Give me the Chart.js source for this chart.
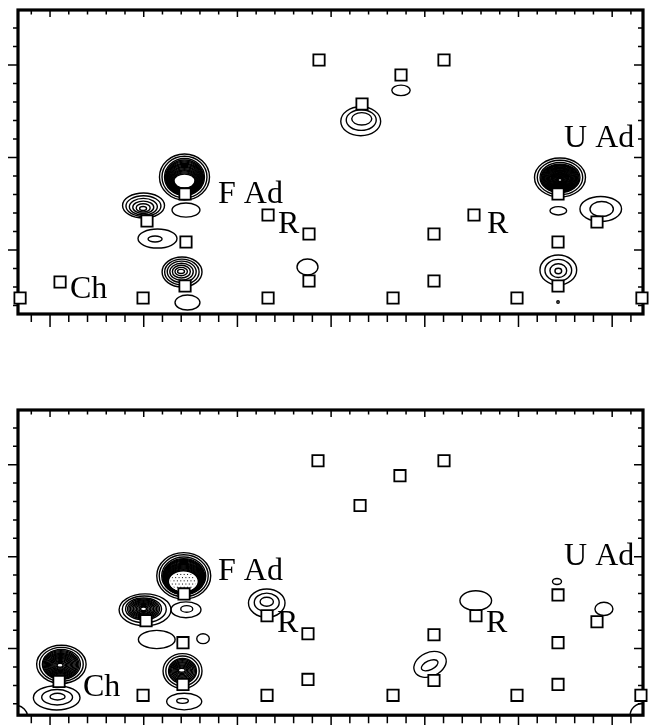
<!DOCTYPE html>
<html>
<head>
<meta charset="utf-8">
<script src="https://cdn.jsdelivr.net/npm/chart.js@4/dist/chart.umd.min.js"></script>
<style>
  html, body { margin: 0; padding: 0; background: #fff; }
  #wrap { position: relative; width: 653px; height: 725px; overflow: hidden; }
  canvas { position: absolute; left: 0; }
  #spec1 { top: 0; }
  #spec2 { top: 380px; }
</style>
</head>
<body>
<div id="wrap">
  <canvas id="spec1" width="653" height="345"></canvas>
  <canvas id="spec2" width="653" height="345"></canvas>
</div>
<script>
// ---- axes (no tick labels; minor ticks every 0.2, major every 1) ----
const xRange = [-0.342, 6.329];
const topYRange = [0.405, 3.692];
const bottomYRange = [0.405, 3.724];
const minorStep = 0.2;

// ---- expected cross-peak positions (open squares) ----
const topMarkers = [
  [2.871, 0.946], [4.205, 0.946], [3.746, 1.108], [3.330, 1.422],
  [1.441, 2.395], [5.422, 2.395], [1.035, 2.686], [2.327, 2.622],
  [2.764, 2.827], [4.525, 2.622], [4.098, 2.827], [5.838, 2.697],
  [1.451, 2.914], [5.422, 2.914], [0.107, 3.346], [2.764, 3.335],
  [4.098, 3.335], [1.441, 3.389], [5.422, 3.389],
  [-0.320, 3.519], [0.993, 3.519], [2.327, 3.519], [3.661, 3.519],
  [4.984, 3.519], [6.318, 3.519]
];
const bottomMarkers = [
  [2.860, 0.957], [4.205, 0.957], [3.735, 1.119], [3.309, 1.443],
  [1.430, 2.405], [5.422, 2.416], [1.025, 2.697], [2.316, 2.643],
  [2.753, 2.838], [4.546, 2.643], [4.098, 2.849], [5.838, 2.708],
  [1.419, 2.935], [5.422, 2.935], [0.096, 3.357], [2.753, 3.335],
  [4.098, 3.346], [1.419, 3.389], [5.422, 3.389],
  [0.993, 3.508], [2.316, 3.508], [3.661, 3.508], [4.984, 3.508],
  [6.307, 3.508]
];

// ---- measured peaks: n contour levels running from the outer
//      ellipse (x, y, rx, ry) to the innermost one (ix, iy, irx, iry) ----
const topPeaks = [
  { x: 1.435, y: 2.211, rx: 0.267, ry: 0.249, n: 3, irx: 0.213, iry: 0.200 },
  { x: 1.435, y: 2.216, rx: 0.203, ry: 0.189, n: 14, iy: 2.254, irx: 0.112, iry: 0.076 },
  { x: 0.998, y: 2.519, rx: 0.224, ry: 0.135, n: 6, ix: 0.993, iy: 2.551, irx: 0.037, iry: 0.022 },
  { x: 1.451, y: 2.568, rx: 0.149, ry: 0.076, n: 1 },
  { x: 1.147, y: 2.876, rx: 0.208, ry: 0.103, n: 2, ix: 1.121, iy: 2.881, irx: 0.075, iry: 0.032 },
  { x: 1.409, y: 3.238, rx: 0.213, ry: 0.162, n: 7, ix: 1.398, iy: 3.232, irx: 0.037, iry: 0.022 },
  { x: 1.467, y: 3.568, rx: 0.133, ry: 0.081, n: 1 },
  { x: 2.748, y: 3.184, rx: 0.112, ry: 0.086, n: 1 },
  { x: 3.316, y: 1.608, rx: 0.213, ry: 0.157, n: 3, ix: 3.327, iy: 1.582, irx: 0.107, iry: 0.067 },
  { x: 3.746, y: 1.274, rx: 0.098, ry: 0.057, n: 1 },
  { x: 5.443, y: 2.216, rx: 0.272, ry: 0.211, n: 3, irx: 0.213, iry: 0.162 },
  { x: 5.443, y: 2.222, rx: 0.203, ry: 0.151, n: 22, iy: 2.243, irx: 0.021, iry: 0.016 },
  { x: 5.425, y: 2.576, rx: 0.089, ry: 0.045, n: 1 },
  { x: 5.878, y: 2.557, rx: 0.222, ry: 0.135, n: 2, ix: 5.888, irx: 0.125, iry: 0.081 },
  { x: 5.425, y: 3.216, rx: 0.196, ry: 0.162, n: 4, iy: 3.227, irx: 0.036, iry: 0.030 },
  { x: 5.422, y: 3.562, rx: 0.013, ry: 0.013, n: 1 }
];
const bottomPeaks = [
  { x: 1.427, y: 2.208, rx: 0.288, ry: 0.252, n: 3, irx: 0.235, iry: 0.205 },
  { x: 1.427, y: 2.216, rx: 0.224, ry: 0.195, n: 14, ix: 1.423, iy: 2.270, irx: 0.160, iry: 0.117, dots: true },
  { x: 1.014, y: 2.578, rx: 0.277, ry: 0.173, n: 3, ix: 0.998, iy: 2.568, irx: 0.192, iry: 0.119 },
  { x: 0.998, y: 2.568, rx: 0.171, ry: 0.108, n: 10, irx: 0.032, iry: 0.019 },
  { x: 1.451, y: 2.578, rx: 0.160, ry: 0.086, n: 2, ix: 1.459, iy: 2.568, irx: 0.064, iry: 0.036 },
  { x: 1.139, y: 2.901, rx: 0.196, ry: 0.099, n: 1 },
  { x: 1.633, y: 2.892, rx: 0.067, ry: 0.054, n: 1 },
  { x: 1.414, y: 3.243, rx: 0.208, ry: 0.189, n: 3, irx: 0.149, iry: 0.135 },
  { x: 1.414, y: 3.243, rx: 0.139, ry: 0.124, n: 9, ix: 1.406, iy: 3.235, irx: 0.037, iry: 0.022 },
  { x: 1.432, y: 3.576, rx: 0.187, ry: 0.090, n: 2, ix: 1.414, iy: 3.568, irx: 0.062, iry: 0.027 },
  { x: 2.313, y: 2.505, rx: 0.195, ry: 0.154, n: 3, iy: 2.490, irx: 0.071, iry: 0.049 },
  { x: 0.121, y: 3.171, rx: 0.264, ry: 0.208, n: 3, irx: 0.203, iry: 0.162 },
  { x: 0.117, y: 3.173, rx: 0.192, ry: 0.151, n: 14, ix: 0.107, iy: 3.181, irx: 0.032, iry: 0.022 },
  { x: 0.071, y: 3.535, rx: 0.249, ry: 0.132, n: 3, ix: 0.080, iy: 3.522, irx: 0.080, iry: 0.036 },
  { x: -0.374, y: 3.757, rx: 0.139, ry: 0.141, n: 1 },
  { x: 4.544, y: 2.478, rx: 0.169, ry: 0.108, n: 1 },
  { x: 4.056, y: 3.171, rx: 0.181, ry: 0.130, n: 2, ix: 4.052, iy: 3.181, irx: 0.096, iry: 0.049, rot: -25 },
  { x: 5.411, y: 2.270, rx: 0.048, ry: 0.032, n: 1 },
  { x: 5.912, y: 2.568, rx: 0.096, ry: 0.072, n: 1 },
  { x: 6.329, y: 3.735, rx: 0.139, ry: 0.141, n: 1 }
];

// ---- assignments (text, x, y of the baseline start) ----
const topLabels = [
  ["F Ad", 1.793, 2.492], ["U Ad", 5.486, 1.886],
  ["R", 2.433, 2.816], ["R", 4.664, 2.816], ["Ch", 0.213, 3.519]
];
const bottomLabels = [
  ["F Ad", 1.793, 2.254], ["U Ad", 5.486, 2.092],
  ["R", 2.423, 2.816], ["R", 4.653, 2.816], ["Ch", 0.352, 3.519]
];

function tickValues(min, max, step) {
  const out = [];
  for (let k = Math.ceil(min / step - 1e-9); k * step <= max + 1e-9; k++) {
    out.push(Math.round(k * step * 1000) / 1000);
  }
  return out;
}
const isMajor = v => Math.abs(v - Math.round(v)) < 1e-6;

// contour rings, clipped to the plot frame
const contourPlugin = {
  id: 'contours',
  beforeDatasetsDraw(chart, args, opts) {
    const { ctx, chartArea: a, scales: { x: xs, y: ys } } = chart;
    ctx.save();
    ctx.beginPath();
    ctx.rect(a.left, a.top, a.right - a.left, a.bottom - a.top);
    ctx.clip();
    ctx.strokeStyle = '#000';
    ctx.lineWidth = 1.4;
    for (const p of opts.peaks) {
      const ix = p.ix ?? p.x, iy = p.iy ?? p.y;
      const irx = p.irx ?? p.rx, iry = p.iry ?? p.ry;
      const rot = (p.rot || 0) * Math.PI / 180;
      let last = null;
      for (let k = 0; k < p.n; k++) {
        const t = p.n > 1 ? k / (p.n - 1) : 0;
        const cx = p.x + (ix - p.x) * t, cy = p.y + (iy - p.y) * t;
        const rx = p.rx + (irx - p.rx) * t, ry = p.ry + (iry - p.ry) * t;
        const px = xs.getPixelForValue(cx), py = ys.getPixelForValue(cy);
        const prx = Math.abs(xs.getPixelForValue(cx + rx) - px);
        const pry = Math.abs(ys.getPixelForValue(cy + ry) - py);
        ctx.beginPath();
        ctx.ellipse(px, py, prx, pry, rot, 0, Math.PI * 2);
        ctx.stroke();
        last = { px, py, prx, pry };
      }
      if (p.dots && last) {
        ctx.save();
        ctx.beginPath();
        ctx.ellipse(last.px, last.py, last.prx * 0.85, last.pry * 0.85, 0, 0, Math.PI * 2);
        ctx.clip();
        ctx.fillStyle = '#000';
        let row = 0;
        for (let yy = last.py - last.pry; yy <= last.py + last.pry; yy += 3.2, row++) {
          for (let xx = last.px - last.prx + (row % 2) * 1.7; xx <= last.px + last.prx; xx += 3.4) {
            ctx.fillRect(xx, yy, 1, 1);
          }
        }
        ctx.restore();
      }
    }
    ctx.restore();

    // frame and ticks sit under the squares
    ctx.save();
    ctx.strokeStyle = '#000';
    ctx.lineWidth = 3.2;
    ctx.strokeRect(a.left, a.top, a.right - a.left, a.bottom - a.top);
    ctx.lineWidth = 1.5;
    ctx.beginPath();
    for (const v of tickValues(xs.min, xs.max, minorStep)) {
      const px = xs.getPixelForValue(v);
      const big = isMajor(v);
      ctx.moveTo(px, a.bottom); ctx.lineTo(px, a.bottom + (big ? 13 : 8));
      ctx.moveTo(px, a.top); ctx.lineTo(px, a.top + (big ? 7 : 4.5));
    }
    for (const v of tickValues(ys.min, ys.max, minorStep)) {
      const py = ys.getPixelForValue(v);
      const big = isMajor(v);
      ctx.moveTo(a.left, py); ctx.lineTo(a.left - (big ? 10 : 5), py);
      ctx.moveTo(a.right, py); ctx.lineTo(a.right - (big ? 9 : 5), py);
    }
    ctx.stroke();
    ctx.restore();
  },
  afterDatasetsDraw(chart, args, opts) {
    const { ctx, scales: { x: xs, y: ys } } = chart;
    ctx.save();
    ctx.fillStyle = '#000';
    ctx.font = '32px "Liberation Serif", "Times New Roman", serif';
    ctx.textAlign = 'left';
    ctx.textBaseline = 'alphabetic';
    for (const [txt, x, y] of opts.labels) {
      ctx.fillText(txt, xs.getPixelForValue(x), ys.getPixelForValue(y));
    }
    ctx.restore();
  }
};

function makeSpectrum(id, markers, peaks, labels, yRange, pad) {
  return new Chart(document.getElementById(id), {
    type: 'scatter',
    data: {
      datasets: [{
        data: markers.map(([x, y]) => ({ x, y })),
        pointStyle: 'rect',
        pointRadius: 8,
        pointHoverRadius: 8,
        backgroundColor: '#fff',
        borderColor: '#000',
        borderWidth: 1.8,
        clip: false
      }]
    },
    options: {
      responsive: false,
      animation: false,
      events: [],
      layout: { padding: pad },
      plugins: {
        legend: { display: false },
        tooltip: { enabled: false },
        contours: { peaks, labels }
      },
      scales: {
        x: { type: 'linear', display: false, min: xRange[0], max: xRange[1] },
        y: { type: 'linear', display: false, reverse: true, min: yRange[0], max: yRange[1] }
      }
    },
    plugins: [contourPlugin]
  });
}

makeSpectrum('spec1', topMarkers, topPeaks, topLabels, topYRange,
  { left: 18, right: 10, top: 10, bottom: 31 });
makeSpectrum('spec2', bottomMarkers, bottomPeaks, bottomLabels, bottomYRange,
  { left: 18, right: 10, top: 30, bottom: 8 });
</script>
</body>
</html>
